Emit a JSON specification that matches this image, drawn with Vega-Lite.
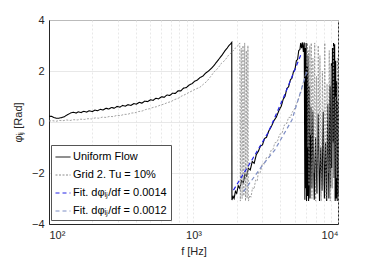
{
  "$schema": "https://vega.github.io/schema/vega-lite/v6.json",
  "width": 289,
  "height": 204,
  "autosize": {"type": "none"},
  "padding": {"left": 49, "top": 20, "right": 36, "bottom": 39},
  "background": "white",
  "config": {
    "font": "Liberation Sans",
    "view": {"stroke": "#262626", "strokeWidth": 1},
    "axis": {
      "domainColor": "#262626",
      "labelColor": "#262626",
      "titleColor": "#262626",
      "labelFont": "Liberation Sans",
      "titleFont": "Liberation Sans",
      "labelFontSize": 11,
      "titleFontSize": 11,
      "titleFontWeight": "normal",
      "ticks": false,
      "gridColor": "#e2e2e2",
      "gridWidth": 0.8
    },
    "legend": {
      "labelFont": "Liberation Sans",
      "labelFontSize": 11,
      "labelColor": "#000000"
    }
  },
  "datasets": {
    "d": [
      {"s": "U", "f": 100, "p": 0.23}, {"s": "U", "f": 104, "p": 0.22}, {"s": "U", "f": 108, "p": 0.18}, {"s": "U", "f": 112, "p": 0.15},
      {"s": "U", "f": 117, "p": 0.15}, {"s": "U", "f": 122, "p": 0.17}, {"s": "U", "f": 127, "p": 0.2}, {"s": "U", "f": 132, "p": 0.26},
      {"s": "U", "f": 137, "p": 0.31}, {"s": "U", "f": 142, "p": 0.36}, {"s": "U", "f": 148, "p": 0.38}, {"s": "U", "f": 154, "p": 0.35},
      {"s": "U", "f": 160, "p": 0.4}, {"s": "U", "f": 167, "p": 0.37}, {"s": "U", "f": 174, "p": 0.42}, {"s": "U", "f": 182, "p": 0.39},
      {"s": "U", "f": 190, "p": 0.44}, {"s": "U", "f": 199, "p": 0.41}, {"s": "U", "f": 208, "p": 0.47}, {"s": "U", "f": 217, "p": 0.44},
      {"s": "U", "f": 227, "p": 0.5}, {"s": "U", "f": 237, "p": 0.47}, {"s": "U", "f": 248, "p": 0.54}, {"s": "U", "f": 259, "p": 0.51},
      {"s": "U", "f": 271, "p": 0.57}, {"s": "U", "f": 283, "p": 0.54}, {"s": "U", "f": 296, "p": 0.61}, {"s": "U", "f": 309, "p": 0.58},
      {"s": "U", "f": 323, "p": 0.65}, {"s": "U", "f": 338, "p": 0.62}, {"s": "U", "f": 353, "p": 0.68}, {"s": "U", "f": 369, "p": 0.65},
      {"s": "U", "f": 386, "p": 0.72}, {"s": "U", "f": 403, "p": 0.7}, {"s": "U", "f": 421, "p": 0.77}, {"s": "U", "f": 440, "p": 0.74},
      {"s": "U", "f": 460, "p": 0.82}, {"s": "U", "f": 481, "p": 0.8}, {"s": "U", "f": 503, "p": 0.87}, {"s": "U", "f": 525, "p": 0.85},
      {"s": "U", "f": 549, "p": 0.93}, {"s": "U", "f": 574, "p": 0.91}, {"s": "U", "f": 600, "p": 0.99}, {"s": "U", "f": 627, "p": 0.97},
      {"s": "U", "f": 655, "p": 1.06}, {"s": "U", "f": 685, "p": 1.04}, {"s": "U", "f": 716, "p": 1.13}, {"s": "U", "f": 748, "p": 1.12},
      {"s": "U", "f": 782, "p": 1.22}, {"s": "U", "f": 817, "p": 1.22}, {"s": "U", "f": 854, "p": 1.33}, {"s": "U", "f": 893, "p": 1.35},
      {"s": "U", "f": 933, "p": 1.45}, {"s": "U", "f": 975, "p": 1.5}, {"s": "U", "f": 1019, "p": 1.6}, {"s": "U", "f": 1065, "p": 1.65},
      {"s": "U", "f": 1113, "p": 1.75}, {"s": "U", "f": 1163, "p": 1.8}, {"s": "U", "f": 1215, "p": 1.92}, {"s": "U", "f": 1270, "p": 2.0},
      {"s": "U", "f": 1327, "p": 2.1}, {"s": "U", "f": 1387, "p": 2.22}, {"s": "U", "f": 1450, "p": 2.36}, {"s": "U", "f": 1515, "p": 2.5},
      {"s": "U", "f": 1583, "p": 2.64}, {"s": "U", "f": 1654, "p": 2.8}, {"s": "U", "f": 1710, "p": 2.9}, {"s": "U", "f": 1760, "p": 3.0},
      {"s": "U", "f": 1800, "p": 3.05}, {"s": "U", "f": 1840, "p": 3.12}, {"s": "U", "f": 1845, "p": -3.06}, {"s": "U", "f": 1880, "p": -2.92},
      {"s": "U", "f": 1910, "p": -3.0}, {"s": "U", "f": 1950, "p": -2.72}, {"s": "U", "f": 1990, "p": -2.8}, {"s": "U", "f": 2040, "p": -2.5},
      {"s": "U", "f": 2090, "p": -2.6}, {"s": "U", "f": 2150, "p": -2.3}, {"s": "U", "f": 2210, "p": -2.38}, {"s": "U", "f": 2272, "p": -2.05},
      {"s": "U", "f": 2330, "p": -2.12}, {"s": "U", "f": 2400, "p": -1.82}, {"s": "U", "f": 2470, "p": -1.88}, {"s": "U", "f": 2550, "p": -1.55},
      {"s": "U", "f": 2630, "p": -1.62}, {"s": "U", "f": 2720, "p": -1.28}, {"s": "U", "f": 2812, "p": -1.15}, {"s": "U", "f": 2900, "p": -0.95},
      {"s": "U", "f": 3000, "p": -0.9}, {"s": "U", "f": 3100, "p": -0.65}, {"s": "U", "f": 3200, "p": -0.6}, {"s": "U", "f": 3320, "p": -0.35},
      {"s": "U", "f": 3476, "p": -0.15}, {"s": "U", "f": 3600, "p": 0.05}, {"s": "U", "f": 3750, "p": 0.2}, {"s": "U", "f": 3900, "p": 0.45},
      {"s": "U", "f": 4050, "p": 0.62}, {"s": "U", "f": 4180, "p": 0.9}, {"s": "U", "f": 4296, "p": 1.0}, {"s": "U", "f": 4420, "p": 1.3},
      {"s": "U", "f": 4550, "p": 1.38}, {"s": "U", "f": 4680, "p": 1.65}, {"s": "U", "f": 4800, "p": 1.72}, {"s": "U", "f": 4920, "p": 1.98},
      {"s": "U", "f": 5036, "p": 2.05}, {"s": "U", "f": 5150, "p": 2.4}, {"s": "U", "f": 5250, "p": 2.45}, {"s": "U", "f": 5350, "p": 2.8},
      {"s": "U", "f": 5456, "p": 2.85}, {"s": "U", "f": 5520, "p": 3.1}, {"s": "U", "f": 5600, "p": 2.9}, {"s": "U", "f": 5680, "p": 3.12},
      {"s": "U", "f": 5760, "p": 2.75}, {"s": "U", "f": 5840, "p": 3.12}, {"s": "U", "f": 5900, "p": -3.05}, {"s": "U", "f": 5940, "p": 2.9},
      {"s": "U", "f": 5980, "p": -2.6}, {"s": "U", "f": 6020, "p": 3.1}, {"s": "U", "f": 6060, "p": -3.1}, {"s": "U", "f": 6100, "p": 2.2},
      {"s": "U", "f": 6150, "p": -2.9}, {"s": "U", "f": 6200, "p": 2.6}, {"s": "U", "f": 6260, "p": -3.1}, {"s": "U", "f": 6320, "p": 1.4},
      {"s": "U", "f": 6400, "p": -3.0}, {"s": "U", "f": 6500, "p": 0.6}, {"s": "U", "f": 6600, "p": -2.6}, {"s": "U", "f": 6700, "p": 0.4},
      {"s": "U", "f": 6850, "p": -3.05}, {"s": "U", "f": 7000, "p": -0.6}, {"s": "U", "f": 7150, "p": -2.8}, {"s": "U", "f": 7300, "p": 0.3},
      {"s": "U", "f": 7450, "p": -3.1}, {"s": "U", "f": 7600, "p": -1.0}, {"s": "U", "f": 7750, "p": -2.7}, {"s": "U", "f": 7900, "p": 0.4},
      {"s": "U", "f": 8050, "p": -3.0}, {"s": "U", "f": 8200, "p": -0.8}, {"s": "U", "f": 8350, "p": -3.1}, {"s": "U", "f": 8500, "p": 0.7},
      {"s": "U", "f": 8650, "p": -3.0}, {"s": "U", "f": 8780, "p": 1.4}, {"s": "U", "f": 8900, "p": -2.6}, {"s": "U", "f": 9000, "p": 2.3},
      {"s": "U", "f": 9080, "p": -1.8}, {"s": "U", "f": 9160, "p": 2.9}, {"s": "U", "f": 9240, "p": -0.8}, {"s": "U", "f": 9320, "p": 3.1},
      {"s": "U", "f": 9400, "p": -2.2}, {"s": "U", "f": 9480, "p": 3.05}, {"s": "U", "f": 9560, "p": -3.1}, {"s": "U", "f": 9640, "p": 2.4},
      {"s": "U", "f": 9720, "p": -3.0}, {"s": "U", "f": 9800, "p": 1.6}, {"s": "U", "f": 9880, "p": -3.1}, {"s": "U", "f": 9950, "p": 0.8},
      {"s": "U", "f": 10000, "p": -2.9},

      {"s": "G", "f": 100, "p": 0.04}, {"s": "G", "f": 106, "p": 0.05}, {"s": "G", "f": 112, "p": 0.03}, {"s": "G", "f": 118, "p": 0.06},
      {"s": "G", "f": 125, "p": 0.05}, {"s": "G", "f": 132, "p": 0.08}, {"s": "G", "f": 140, "p": 0.06}, {"s": "G", "f": 148, "p": 0.09},
      {"s": "G", "f": 157, "p": 0.08}, {"s": "G", "f": 166, "p": 0.11}, {"s": "G", "f": 176, "p": 0.1}, {"s": "G", "f": 186, "p": 0.13},
      {"s": "G", "f": 197, "p": 0.12}, {"s": "G", "f": 209, "p": 0.16}, {"s": "G", "f": 221, "p": 0.15}, {"s": "G", "f": 234, "p": 0.19},
      {"s": "G", "f": 248, "p": 0.18}, {"s": "G", "f": 263, "p": 0.22}, {"s": "G", "f": 278, "p": 0.21}, {"s": "G", "f": 295, "p": 0.26},
      {"s": "G", "f": 312, "p": 0.25}, {"s": "G", "f": 331, "p": 0.3}, {"s": "G", "f": 350, "p": 0.3}, {"s": "G", "f": 371, "p": 0.35},
      {"s": "G", "f": 393, "p": 0.36}, {"s": "G", "f": 416, "p": 0.41}, {"s": "G", "f": 441, "p": 0.43}, {"s": "G", "f": 467, "p": 0.49},
      {"s": "G", "f": 495, "p": 0.52}, {"s": "G", "f": 524, "p": 0.57}, {"s": "G", "f": 555, "p": 0.6}, {"s": "G", "f": 588, "p": 0.66},
      {"s": "G", "f": 623, "p": 0.7}, {"s": "G", "f": 660, "p": 0.76}, {"s": "G", "f": 699, "p": 0.8}, {"s": "G", "f": 740, "p": 0.88},
      {"s": "G", "f": 784, "p": 0.93}, {"s": "G", "f": 830, "p": 1.02}, {"s": "G", "f": 879, "p": 1.08}, {"s": "G", "f": 931, "p": 1.16},
      {"s": "G", "f": 986, "p": 1.23}, {"s": "G", "f": 1044, "p": 1.3}, {"s": "G", "f": 1106, "p": 1.36}, {"s": "G", "f": 1171, "p": 1.48},
      {"s": "G", "f": 1240, "p": 1.6}, {"s": "G", "f": 1313, "p": 1.78}, {"s": "G", "f": 1390, "p": 1.97}, {"s": "G", "f": 1472, "p": 2.1},
      {"s": "G", "f": 1559, "p": 2.3}, {"s": "G", "f": 1651, "p": 2.42}, {"s": "G", "f": 1748, "p": 2.62}, {"s": "G", "f": 1850, "p": 2.75},
      {"s": "G", "f": 1950, "p": 2.9}, {"s": "G", "f": 2050, "p": 3.02}, {"s": "G", "f": 2090, "p": 3.1}, {"s": "G", "f": 2110, "p": -3.1},
      {"s": "G", "f": 2140, "p": 2.9}, {"s": "G", "f": 2170, "p": -3.0}, {"s": "G", "f": 2200, "p": 3.0}, {"s": "G", "f": 2230, "p": -2.9},
      {"s": "G", "f": 2260, "p": 3.1}, {"s": "G", "f": 2290, "p": -3.1}, {"s": "G", "f": 2320, "p": 2.8}, {"s": "G", "f": 2350, "p": -3.0},
      {"s": "G", "f": 2380, "p": 3.0}, {"s": "G", "f": 2400, "p": -3.1}, {"s": "G", "f": 2450, "p": -2.88}, {"s": "G", "f": 2500, "p": -2.95},
      {"s": "G", "f": 2560, "p": -2.58}, {"s": "G", "f": 2620, "p": -2.64}, {"s": "G", "f": 2690, "p": -2.28}, {"s": "G", "f": 2760, "p": -2.32},
      {"s": "G", "f": 2812, "p": -1.95}, {"s": "G", "f": 2900, "p": -1.98}, {"s": "G", "f": 3000, "p": -1.62}, {"s": "G", "f": 3100, "p": -1.65},
      {"s": "G", "f": 3200, "p": -1.38}, {"s": "G", "f": 3320, "p": -1.4}, {"s": "G", "f": 3450, "p": -1.1}, {"s": "G", "f": 3550, "p": -1.08},
      {"s": "G", "f": 3650, "p": -0.82}, {"s": "G", "f": 3800, "p": -0.78}, {"s": "G", "f": 3950, "p": -0.48}, {"s": "G", "f": 4100, "p": -0.45},
      {"s": "G", "f": 4250, "p": -0.12}, {"s": "G", "f": 4400, "p": -0.08}, {"s": "G", "f": 4550, "p": 0.18}, {"s": "G", "f": 4700, "p": 0.18},
      {"s": "G", "f": 4800, "p": 0.38}, {"s": "G", "f": 4950, "p": 0.45}, {"s": "G", "f": 5100, "p": 0.65}, {"s": "G", "f": 5250, "p": 0.8},
      {"s": "G", "f": 5400, "p": 1.0}, {"s": "G", "f": 5580, "p": 1.2}, {"s": "G", "f": 5700, "p": 1.5}, {"s": "G", "f": 5850, "p": 1.65},
      {"s": "G", "f": 5950, "p": 1.9}, {"s": "G", "f": 6080, "p": 2.15}, {"s": "G", "f": 6150, "p": 3.1}, {"s": "G", "f": 6200, "p": -1.0},
      {"s": "G", "f": 6250, "p": 2.8}, {"s": "G", "f": 6300, "p": -2.5}, {"s": "G", "f": 6380, "p": 3.0}, {"s": "G", "f": 6450, "p": -0.5},
      {"s": "G", "f": 6530, "p": 3.1}, {"s": "G", "f": 6600, "p": -3.0}, {"s": "G", "f": 6700, "p": 2.5}, {"s": "G", "f": 6800, "p": -2.0},
      {"s": "G", "f": 6900, "p": 3.1}, {"s": "G", "f": 7000, "p": -3.1}, {"s": "G", "f": 7100, "p": 1.8}, {"s": "G", "f": 7200, "p": -2.8},
      {"s": "G", "f": 7300, "p": 3.0}, {"s": "G", "f": 7400, "p": -1.5}, {"s": "G", "f": 7500, "p": 2.6}, {"s": "G", "f": 7650, "p": -3.1},
      {"s": "G", "f": 7800, "p": 2.0}, {"s": "G", "f": 7950, "p": -2.5}, {"s": "G", "f": 8100, "p": 3.1}, {"s": "G", "f": 8250, "p": -3.0},
      {"s": "G", "f": 8400, "p": 1.5}, {"s": "G", "f": 8550, "p": -2.0}, {"s": "G", "f": 8700, "p": 2.8}, {"s": "G", "f": 8850, "p": -3.1},
      {"s": "G", "f": 9000, "p": 2.2}, {"s": "G", "f": 9150, "p": -2.6}, {"s": "G", "f": 9300, "p": 3.0}, {"s": "G", "f": 9450, "p": -3.0},
      {"s": "G", "f": 9600, "p": 1.0}, {"s": "G", "f": 9750, "p": -2.2}, {"s": "G", "f": 9900, "p": 2.5}, {"s": "G", "f": 10000, "p": -3.0},

      {"s": "F1", "f": 1891, "p": -2.67}, {"s": "F1", "f": 2500, "p": -1.55}, {"s": "F1", "f": 3295, "p": -0.4}, {"s": "F1", "f": 4300, "p": 1.1}, {"s": "F1", "f": 5580, "p": 2.69},
      {"s": "F2", "f": 2220, "p": -2.73}, {"s": "F2", "f": 3000, "p": -1.7}, {"s": "F2", "f": 3650, "p": -1.1}, {"s": "F2", "f": 4800, "p": 0.08}, {"s": "F2", "f": 6100, "p": 2.0}
    ]
  },
  "data": {"name": "d"},
  "encoding": {
    "x": {
      "field": "f", "type": "quantitative",
      "scale": {"type": "log", "domain": [100, 10000], "nice": false},
      "axis": {
        "title": "f [Hz]",
        "values": [100, 200, 300, 400, 500, 600, 700, 800, 900, 1000, 2000, 3000, 4000, 5000, 6000, 7000, 8000, 9000, 10000],
        "labelExpr": "datum.value == 100 ? '10²' : datum.value == 1000 ? '10³' : datum.value == 10000 ? '10⁴' : ''",
        "labelPadding": 5,
        "titlePadding": 5,
        "gridDash": [2, 2],
        "labelOverlap": false
      }
    },
    "y": {
      "field": "p", "type": "quantitative",
      "scale": {"domain": [-4, 4], "nice": false},
      "axis": {
        "title": "φᵢⱼ [Rad]",
        "values": [-4, -2, 0, 2, 4],
        "labelPadding": 5,
        "titlePadding": 8
      }
    },
    "color": {
      "field": "s", "type": "nominal",
      "scale": {"domain": ["U", "G", "F1", "F2"], "range": ["#000000", "#8c8c8c", "#2323e6", "#7d8dc4"]},
      "legend": {
        "title": null,
        "orient": "none",
        "legendX": 2,
        "legendY": 125,
        "symbolType": "stroke",
        "symbolSize": 225,
        "symbolStrokeWidth": 1,
        "padding": 4,
        "rowPadding": 5,
        "labelOffset": 2,
        "strokeColor": "#555555",
        "fillColor": "white",
        "labelExpr": "datum.label == 'U' ? 'Uniform Flow' : datum.label == 'G' ? 'Grid 2. Tu = 10%' : datum.label == 'F1' ? 'Fit. dφᵢⱼ/df = 0.0014' : 'Fit. dφᵢⱼ/df = 0.0012'"
      }
    },
    "strokeDash": {
      "field": "s", "type": "nominal",
      "scale": {"domain": ["U", "G", "F1", "F2"], "range": [[1, 0], [2, 1.5], [4, 3], [4, 3]]},
      "legend": {
        "title": null,
        "orient": "none",
        "legendX": 2,
        "legendY": 125,
        "symbolType": "stroke",
        "symbolSize": 225,
        "padding": 4,
        "rowPadding": 5,
        "labelOffset": 2,
        "strokeColor": "#555555",
        "fillColor": "white",
        "labelExpr": "datum.label == 'U' ? 'Uniform Flow' : datum.label == 'G' ? 'Grid 2. Tu = 10%' : datum.label == 'F1' ? 'Fit. dφᵢⱼ/df = 0.0014' : 'Fit. dφᵢⱼ/df = 0.0012'"
      }
    }
  },
  "layer": [
    {"transform": [{"filter": "datum.s == 'U'"}], "mark": {"type": "line", "strokeWidth": 1.1}},
    {"transform": [{"filter": "datum.s == 'G'"}], "mark": {"type": "line", "strokeWidth": 0.8}},
    {"transform": [{"filter": "datum.s == 'F1' || datum.s == 'F2'"}], "mark": {"type": "line", "strokeWidth": 1.2}}
  ]
}
